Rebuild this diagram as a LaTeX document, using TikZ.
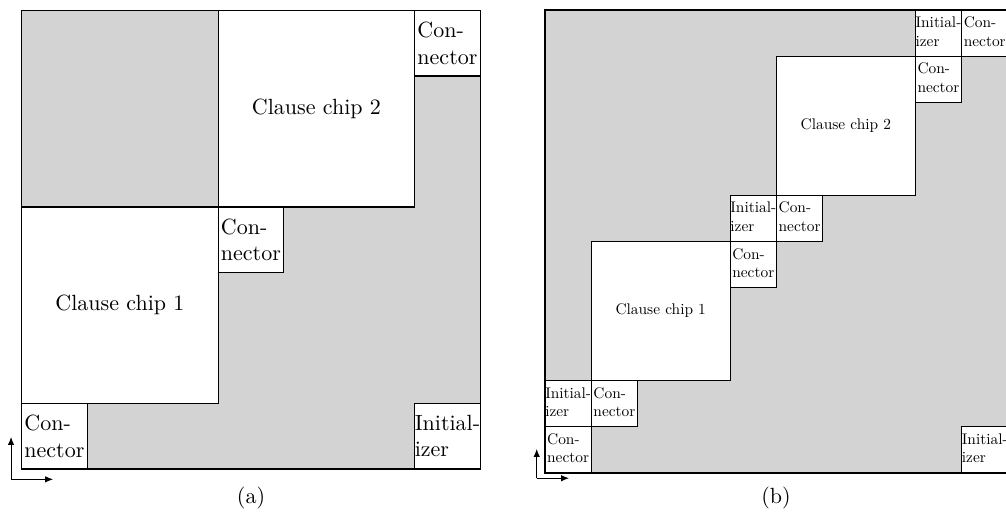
\documentclass[tikz,border=0pt]{standalone}
\usetikzlibrary{arrows.meta}
\definecolor{bg}{RGB}{211,211,211}
\newcommand{\stxt}[1]{\scalebox{0.7}{\begin{tabular}{@{}l@{}}#1\end{tabular}}}
\tikzset{
  box/.style={draw, fill=white, line width=0.6pt, inner sep=0pt, outer sep=0pt, align=left, anchor=south west},
  frame/.style={draw, fill=bg, line width=0.6pt, inner sep=0pt, outer sep=0pt, anchor=south west},
  axis/.style={line width=0.45pt, -{Latex[length=3.6pt,width=2.9pt]}},
}
\begin{document}
\begin{tikzpicture}[x=0.4545pt,y=-0.4545pt]
\useasboundingbox (0,0) rectangle (1006,522);
% ---------- panel (a) ----------
\begin{scope}[shift={(21.7,469)}, x=29.77pt, y=29.77pt,
  sm/.style={box, minimum width=29.77pt, minimum height=29.77pt},
  chip/.style={box, minimum width=89.31pt, minimum height=89.31pt, align=center}]
  \node[frame, minimum width=208.39pt, minimum height=208.39pt] (Fa) at (0,0) {};
  \node[sm] (Ca1) at (0,0) {Con-\\nector};
  \node[sm] (Ia1) at (6,0) {Initial-\\izer};
  \node[chip] (Ka1) at (0,1) {Clause chip 1};
  \node[sm] (Ca2) at (3,3) {Con-\\nector};
  \node[chip] (Ka2) at (3,4) {Clause chip 2};
  \node[sm] (Ca3) at (6,6) {Con-\\nector};
  \coordinate (Oa) at (-0.163,-0.158);
  \coordinate (Ya) at (-0.163,0.49);
  \coordinate (Xa) at (0.48,-0.158);
  \draw[axis] (Oa) -- (Ya);
  \draw[axis] (Oa) -- (Xa);
\end{scope}
% ---------- panel (b) ----------
\begin{scope}[shift={(545,473)}, x=21.04pt, y=21.04pt,
  sm/.style={box, minimum width=21.04pt, minimum height=21.04pt},
  chip/.style={box, minimum width=63.13pt, minimum height=63.13pt, align=center}]
  \node[frame, minimum width=210.4pt, minimum height=210.4pt] (Fb) at (0,0) {};
  \node[sm] (Cb1) at (0,0) {\stxt{Con-\\nector}};
  \node[sm] (Ib1) at (0,1) {\stxt{Initial-\\izer}};
  \node[sm] (Cb2) at (1,1) {\stxt{Con-\\nector}};
  \node[chip] (Kb1) at (1,2) {\scalebox{0.7}{Clause chip 1}};
  \node[sm] (Cb3) at (4,4) {\stxt{Con-\\nector}};
  \node[sm] (Ib2) at (4,5) {\stxt{Initial-\\izer}};
  \node[sm] (Cb4) at (5,5) {\stxt{Con-\\nector}};
  \node[chip] (Kb2) at (5,6) {\scalebox{0.7}{Clause chip 2}};
  \node[sm] (Cb5) at (8,8) {\stxt{Con-\\nector}};
  \node[sm] (Ib3) at (8,9) {\stxt{Initial-\\izer}};
  \node[sm] (Cb6) at (9,9) {\stxt{Con-\\nector}};
  \node[sm] (Ib4) at (9,0) {\stxt{Initial-\\izer}};
  \coordinate (Ob) at (-0.179,-0.113);
  \coordinate (Yb) at (-0.179,0.52);
  \coordinate (Xb) at (0.52,-0.113);
  \draw[axis] (Ob) -- (Yb);
  \draw[axis] (Ob) -- (Xb);
\end{scope}
\node (La) at (251,498) {(a)};
\node (Lb) at (776,498) {(b)};
\end{tikzpicture}
\end{document}
